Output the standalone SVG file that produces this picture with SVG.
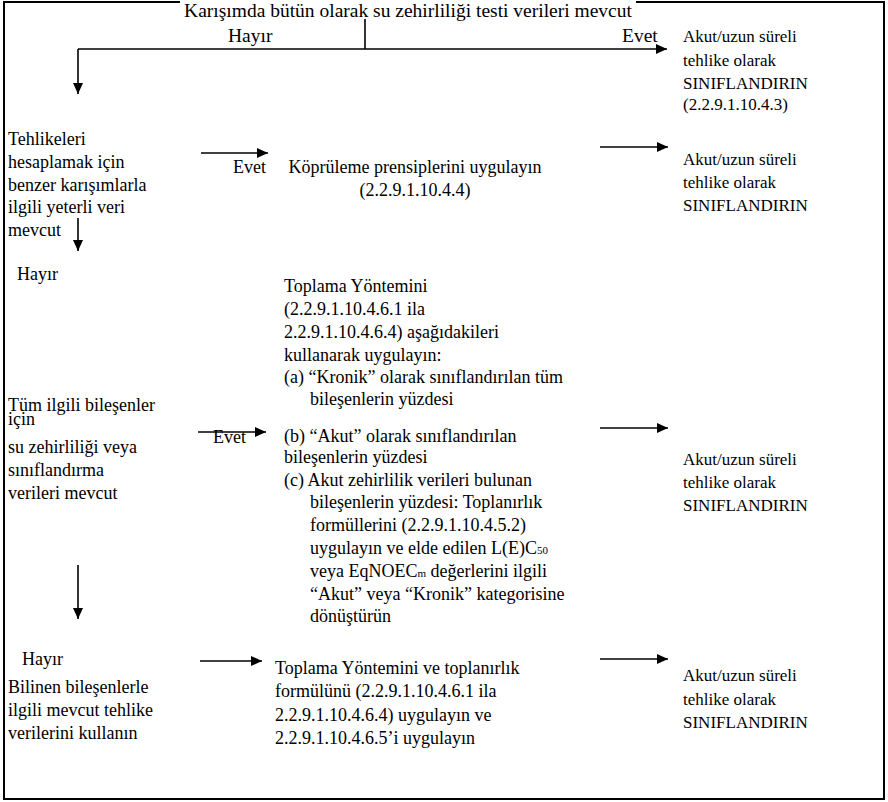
<svg xmlns="http://www.w3.org/2000/svg" width="888" height="802" viewBox="0 0 888 802" font-family="'Liberation Serif', 'Times New Roman', Tinos, 'Noto Serif', 'DejaVu Serif', serif">
<defs>
<marker id="ah" markerUnits="userSpaceOnUse" markerWidth="12" markerHeight="10" refX="11" refY="5" orient="auto">
<path d="M0,0 L11,5 L0,10 Z" fill="#000"/>
</marker>
<style>
text{font-family:'Liberation Serif', 'Times New Roman', Tinos, 'Noto Serif', 'DejaVu Serif', serif;fill:#000;font-size:18px}
text.r{font-size:17px}
text.t{font-size:19.5px}
.c{fill:none;stroke:#000;stroke-width:1.6}
.sub{font-size:11px}
</style>
</defs>
<rect x="0" y="0" width="888" height="802" fill="#fff"/>
<rect x="4" y="2" width="880" height="797" fill="none" stroke="#000" stroke-width="2"/>
<g id="q1">
<rect x="180" y="0" width="456" height="19" fill="#fff"/>
<text class="t" x="408" y="17" text-anchor="middle">Karışımda bütün olarak su zehirliliği testi verileri mevcut</text>
</g>
<g id="r1">
<text class="r" x="683" y="42">Akut/uzun süreli</text>
<text class="r" x="683" y="66">tehlike olarak</text>
<text class="r" x="683" y="89">SINIFLANDIRIN</text>
<text class="r" x="683" y="110">(2.2.9.1.10.4.3)</text>
</g>
<g id="q2">
<text x="8" y="145">Tehlikeleri</text>
<text x="8" y="168">hesaplamak için</text>
<text x="8" y="191">benzer karışımlarla</text>
<text x="8" y="213">ilgili yeterli veri</text>
<text x="8" y="236">mevcut</text>
</g>
<g id="a2">
<text x="415" y="173" text-anchor="middle">Köprüleme prensiplerini uygulayın</text>
<text x="415" y="196" text-anchor="middle">(2.2.9.1.10.4.4)</text>
</g>
<g id="r2">
<text class="r" x="683" y="165">Akut/uzun süreli</text>
<text class="r" x="683" y="188">tehlike olarak</text>
<text class="r" x="683" y="211">SINIFLANDIRIN</text>
</g>
<g id="q3">
<text x="8" y="411">Tüm ilgili bileşenler</text>
<text x="8" y="425">için</text>
<text x="8" y="453">su zehirliliği veya</text>
<text x="8" y="476">sınıflandırma</text>
<text x="8" y="499">verileri mevcut</text>
</g>
<g id="a3">
<text x="284" y="292">Toplama Yöntemini</text>
<text x="284" y="315">(2.2.9.1.10.4.6.1 ila</text>
<text x="284" y="338">2.2.9.1.10.4.6.4) aşağıdakileri</text>
<text x="284" y="361">kullanarak uygulayın:</text>
<text x="284" y="383">(a) “Kronik” olarak sınıflandırılan tüm</text>
<text x="310" y="405">bileşenlerin yüzdesi</text>
<text x="284" y="442">(b) “Akut” olarak sınıflandırılan</text>
<text x="284" y="463">bileşenlerin yüzdesi</text>
<text x="284" y="486">(c) Akut zehirlilik verileri bulunan</text>
<text x="310" y="508">bileşenlerin yüzdesi: Toplanırlık</text>
<text x="310" y="531">formüllerini (2.2.9.1.10.4.5.2)</text>
<text x="310" y="554">uygulayın ve elde edilen L(E)C<tspan class="sub">50</tspan></text>
<text x="310" y="577">veya EqNOEC<tspan class="sub">m</tspan> değerlerini ilgili</text>
<text x="310" y="600">“Akut” veya “Kronik” kategorisine</text>
<text x="310" y="622">dönüştürün</text>
</g>
<g id="r3">
<text class="r" x="683" y="465">Akut/uzun süreli</text>
<text class="r" x="683" y="488">tehlike olarak</text>
<text class="r" x="683" y="511">SINIFLANDIRIN</text>
</g>
<g id="q4">
<text x="8" y="693">Bilinen bileşenlerle</text>
<text x="8" y="716">ilgili mevcut tehlike</text>
<text x="8" y="739">verilerini kullanın</text>
</g>
<g id="a4">
<text x="275" y="674">Toplama Yöntemini ve toplanırlık</text>
<text x="275" y="697">formülünü (2.2.9.1.10.4.6.1 ila</text>
<text x="275" y="721">2.2.9.1.10.4.6.4) uygulayın ve</text>
<text x="275" y="744">2.2.9.1.10.4.6.5’i uygulayın</text>
</g>
<g id="r4">
<text class="r" x="683" y="681">Akut/uzun süreli</text>
<text class="r" x="683" y="705">tehlike olarak</text>
<text class="r" x="683" y="728">SINIFLANDIRIN</text>
</g>
<g id="connectors">
<path class="c" d="M365,19 V49"/>
<path class="c" d="M78,49 H667" marker-end="url(#ah)"/>
<path class="c" d="M78,49 V94" marker-end="url(#ah)"/>
<path class="c" d="M201,153 H268" marker-end="url(#ah)"/>
<path class="c" d="M600,147 H668" marker-end="url(#ah)"/>
<path class="c" d="M78,218 V251" marker-end="url(#ah)"/>
<path class="c" d="M198,432 H266" marker-end="url(#ah)"/>
<path class="c" d="M600,428 H668" marker-end="url(#ah)"/>
<path class="c" d="M78,565 V619" marker-end="url(#ah)"/>
<path class="c" d="M200,661 H262" marker-end="url(#ah)"/>
<path class="c" d="M600,659 H668" marker-end="url(#ah)"/>
</g>
<g id="labels">
<text class="t" x="228" y="42">Hayır</text>
<text class="t" x="622" y="42">Evet</text>
<text x="233" y="173">Evet</text>
<text x="17" y="280">Hayır</text>
<text x="213" y="443">Evet</text>
<text x="22" y="665">Hayır</text>
</g>
</svg>
